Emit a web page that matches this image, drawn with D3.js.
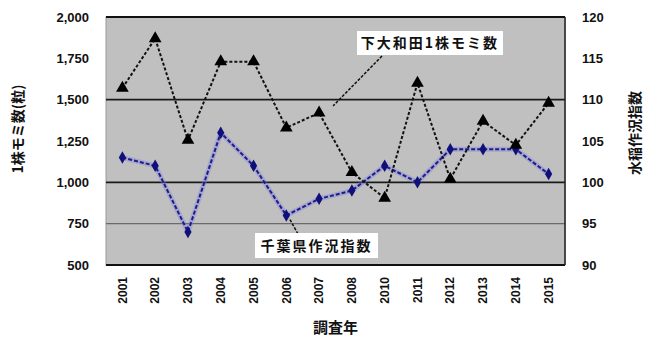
<!DOCTYPE html>
<html><head><meta charset="utf-8">
<script src="https://cdn.jsdelivr.net/npm/d3@7"></script>
<style>
html,body{margin:0;padding:0;background:#fff;}
svg{display:block;font-family:"Noto Sans CJK JP","Noto Sans",sans-serif;}
</style></head>
<body><svg id="chart" width="645" height="338"></svg>
<script>
// survey years (2009 not surveyed)
const years = ["2001","2002","2003","2004","2005","2006","2007","2008","2010","2011","2012","2013","2014","2015"];
// grains per hill at Shimo-Owada (left axis)
const grainsPerHill = [1570, 1870, 1255, 1730, 1730, 1330, 1420, 1060, 905, 1600, 1020, 1370, 1225, 1480];
// Chiba prefecture crop index (right axis)
const cropIndex = [103, 102, 94, 106, 102, 96, 98, 99, 102, 100, 104, 104, 104, 101];
const leftTicks = [500, 750, 1000, 1250, 1500, 1750, 2000];
const rightTicks = [90, 95, 100, 105, 110, 115, 120];

const svg = d3.select("#chart");
const L = 106, R = 565, T = 17, B = 265;

const x = d3.scaleBand().domain(years).range([L, R]).padding(0);
const cx = d => x(d) + x.bandwidth() / 2;
const yL = d3.scaleLinear().domain([500, 2000]).range([B, T]);
const yR = d3.scaleLinear().domain([90, 120]).range([B, T]);

// plot area
svg.append("rect").attr("x", L).attr("y", T).attr("width", R - L).attr("height", B - T)
  .attr("fill", "#c0c0c0").attr("stroke", "#9a9a9a");

// gridlines
const grid = [
  {v: 1500, c: "#1a1a1a", w: 1.6},
  {v: 1000, c: "#1a1a1a", w: 1.6},
  {v: 750, c: "#6a6a6a", w: 1.2}
];
svg.append("g").selectAll("line").data(grid).join("line")
  .attr("x1", L).attr("x2", R).attr("y1", d => yL(d.v)).attr("y2", d => yL(d.v))
  .attr("stroke", d => d.c).attr("stroke-width", d => d.w);

// frame lines
svg.append("line").attr("x1", L).attr("x2", R).attr("y1", yL(2000)).attr("y2", yL(2000))
  .attr("stroke", "#111").attr("stroke-width", 2);
svg.append("line").attr("x1", L).attr("x2", R).attr("y1", yL(500)).attr("y2", yL(500))
  .attr("stroke", "#111").attr("stroke-width", 2);
svg.append("line").attr("x1", R).attr("x2", R).attr("y1", T).attr("y2", B)
  .attr("stroke", "#222").attr("stroke-width", 1.5);

// left axis
const fmt = d3.format(",");
const axL = svg.append("g").attr("transform", `translate(${L - 14},0)`)
  .call(d3.axisLeft(yL).tickValues(leftTicks).tickSize(0).tickFormat(fmt));
axL.select(".domain").remove();
axL.selectAll("text").attr("font-size", 13).attr("font-weight", "bold").attr("fill", "#111")
  .attr("font-family", "'Liberation Sans Narrow','Liberation Sans',sans-serif");

// right axis
const axR = svg.append("g").attr("transform", `translate(${R + 14},0)`)
  .call(d3.axisRight(yR).tickValues(rightTicks).tickSize(0));
axR.select(".domain").remove();
axR.selectAll("text").attr("font-size", 13).attr("font-weight", "bold").attr("fill", "#111")
  .attr("font-family", "'Liberation Sans Narrow','Liberation Sans',sans-serif");

// bottom axis (rotated year labels)
const axB = svg.append("g").attr("transform", `translate(0,${B})`)
  .call(d3.axisBottom(x).tickSize(0));
axB.select(".domain").remove();
axB.selectAll("text")
  .attr("font-size", 12).attr("font-weight", "bold").attr("fill", "#111")
  .attr("font-family", "'Liberation Sans Narrow','Liberation Sans',sans-serif")
  .attr("text-anchor", "end").attr("dy", "0.35em")
  .attr("transform", "translate(0,12) rotate(-90)").attr("x", 0).attr("y", 0);

// axis titles
svg.append("text").attr("transform", `translate(23,${(T + B) / 2 - 12}) rotate(-90)`)
  .attr("text-anchor", "middle").attr("font-size", 14).attr("font-weight", "bold").attr("fill", "#111")
  .text("1株モミ数(粒)");
svg.append("text").attr("transform", `translate(640,${(T + B) / 2 - 8}) rotate(-90)`)
  .attr("text-anchor", "middle").attr("font-size", 14).attr("font-weight", "bold").attr("fill", "#111")
  .text("水稲作況指数");
svg.append("text").attr("x", (L + R) / 2).attr("y", 333)
  .attr("text-anchor", "middle").attr("font-size", 15).attr("font-weight", "bold").attr("fill", "#111")
  .text("調査年");

// crop index series
const idxData = years.map((y, i) => ({y, v: cropIndex[i]}));
const idxLine = d3.line().x(d => cx(d.y)).y(d => yR(d.v));
svg.append("path").datum(idxData).attr("d", idxLine).attr("fill", "none")
  .attr("stroke", "rgba(120,120,230,0.35)").attr("stroke-width", 5);
svg.append("path").datum(idxData).attr("d", idxLine).attr("fill", "none")
  .attr("stroke", "#1c1c8a").attr("stroke-width", 2).attr("stroke-dasharray", "4,2");
svg.append("g").selectAll("path").data(idxData).join("path")
  .attr("d", d3.symbol(d3.symbolDiamond, 45))
  .attr("transform", d => `translate(${cx(d.y)},${yR(d.v)})`)
  .attr("fill", "#10107a");

// grains per hill series
const grData = years.map((y, i) => ({y, v: grainsPerHill[i]}));
const grLine = d3.line().x(d => cx(d.y)).y(d => yL(d.v));
svg.append("path").datum(grData).attr("d", grLine).attr("fill", "none")
  .attr("stroke", "#111").attr("stroke-width", 2).attr("stroke-dasharray", "3,2");
svg.append("g").selectAll("path").data(grData).join("path")
  .attr("d", d3.symbol(d3.symbolTriangle, 70))
  .attr("transform", d => `translate(${cx(d.y)},${yL(d.v)})`)
  .attr("fill", "#000");

// callout labels
function callout(text, bx, by, bw, bh, px, py, sx, sy) {
  svg.append("line").attr("x1", sx).attr("y1", sy).attr("x2", px).attr("y2", py)
    .attr("stroke", "#111").attr("stroke-width", 1.5).attr("stroke-dasharray", "3,1.5");
  svg.append("rect").attr("x", bx).attr("y", by).attr("width", bw).attr("height", bh).attr("fill", "#fff");
  svg.append("text").attr("x", bx + bw / 2).attr("y", by + bh / 2).attr("dy", "0.36em")
    .attr("text-anchor", "middle").attr("font-size", 14).attr("font-weight", "bold")
    .attr("letter-spacing", 2).attr("fill", "#111").text(text);
}
const g7 = grData[6];
callout("下大和田1株モミ数", 357, 31, 146, 24,
  cx(g7.y) + 14, yL(g7.v) - 7, 382, 56);
const i6 = idxData[5];
callout("千葉県作況指数", 255, 233, 123, 25,
  cx(i6.y) + 3, yR(i6.v) + 3, 298, 234);
</script></body></html>
